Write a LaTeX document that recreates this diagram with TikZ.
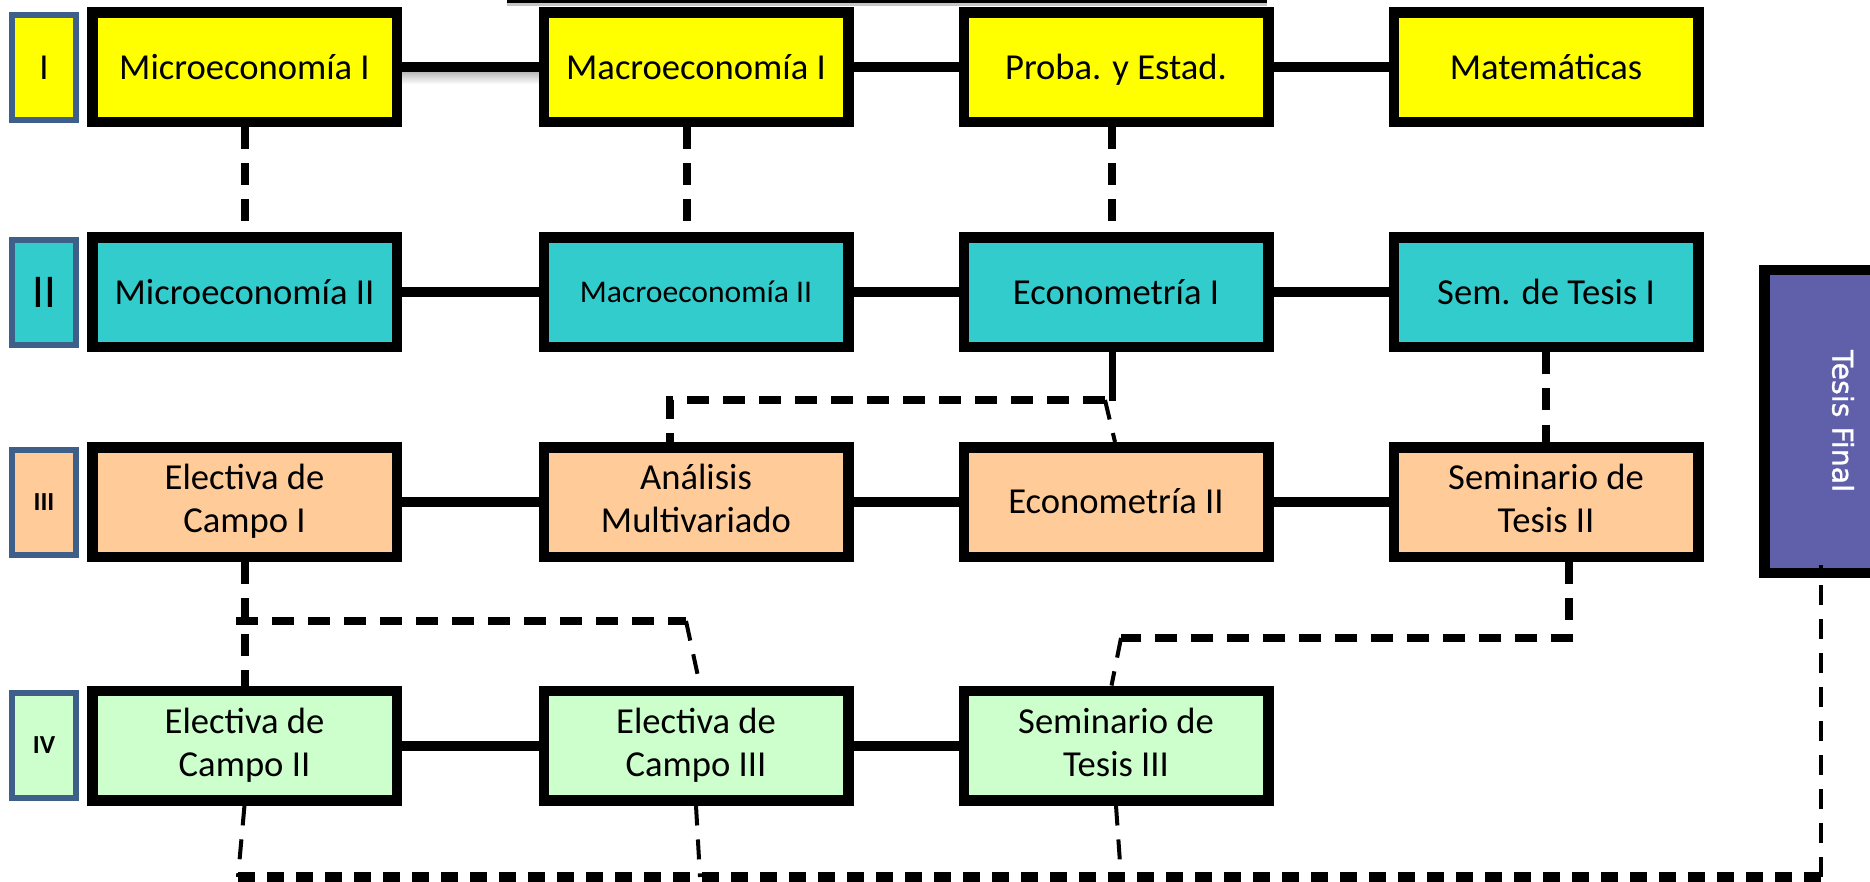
\documentclass[tikz,border=0pt]{standalone}
\usepackage{fontspec}
\setmainfont{Carlito}
\newfontfamily\dejavu[FakeBold=1.2]{DejaVu Sans}
\definecolor{cyel}{HTML}{FFFF00}
\definecolor{cteal}{HTML}{33CCCC}
\definecolor{cpeach}{HTML}{FFCC99}
\definecolor{cgreen}{HTML}{CCFFCC}
\definecolor{cpurple}{HTML}{5F5FAA}
\definecolor{cblue}{HTML}{3E5F8A}
\newcommand{\mystrut}{\rule[-0.2em]{0pt}{1.05em}}
\begin{document}
\begin{tikzpicture}[x=0.5pt,y=-0.5pt,
  course/.style={draw=black, line width=5.25pt, minimum width=152.25pt, minimum height=54.75pt, inner sep=0pt, align=center, font=\fontsize{18.3}{21.5}\selectfont, text=black, execute at begin node={\mystrut}, execute at end node={\mystrut}},
  lab/.style={draw=cblue, line width=3pt, minimum width=32pt, minimum height=52.5pt, inner sep=0pt, text=black},
  solidc/.style={line width=5pt},
  dashc/.style={line width=4pt, dash pattern=on 11pt off 7pt},
  thinc/.style={line width=2pt, dash pattern=on 10pt off 7pt},
  bottomc/.style={line width=5pt, dash pattern=on 8.5pt off 6pt},
]
\useasboundingbox (0,0) rectangle (1870,882);
% top edge line
\fill[gray!45] (507,3) rectangle (1267,6);
\fill[black] (507,0) rectangle (1267,3.5);
% shadow
\fill[top color=gray!55, bottom color=white] (402,72) rectangle (539,84);

% labels
\node[lab, fill=cyel, font=\fontsize{18.3}{21}\selectfont] (l1) at (44,67.5) {I};
\node[lab, fill=cteal, font=\fontsize{23.5}{26}\selectfont] (l2) at (44,292.5) {II};
\node[lab, fill=cpeach, font=\bfseries\fontsize{13}{15}\selectfont] (l3) at (44,502) {III};
\node[lab, fill=cgreen, font=\bfseries\fontsize{13}{15}\selectfont] (l4) at (44,745.5) {IV};

% row I
\node[course, fill=cyel] (a1) at (244.5,67.5) {Microeconomía I};
\node[course, fill=cyel] (a2) at (696,67.5) {Macroeconomía I};
\node[course, fill=cyel] (a3) at (1116,67.5) {Proba. y Estad.};
\node[course, fill=cyel] (a4) at (1546,67.5) {Matemáticas};
% row II
\node[course, fill=cteal] (b1) at (244.5,292.5) {Microeconomía II};
\node[course, fill=cteal, font=\fontsize{15.8}{19}\selectfont] (b2) at (696,292.5) {Macroeconomía II};
\node[course, fill=cteal] (b3) at (1116,292.5) {Econometría I};
\node[course, fill=cteal] (b4) at (1546,292.5) {Sem. de Tesis I};
% row III
\node[course, fill=cpeach] (c1) at (244.5,502) {Electiva de\\Campo I};
\node[course, fill=cpeach] (c2) at (696,502) {Análisis\\Multivariado};
\node[course, fill=cpeach] (c3) at (1116,502) {Econometría II};
\node[course, fill=cpeach] (c4) at (1546,502) {Seminario de\\Tesis II};
% row IV
\node[course, fill=cgreen] (d1) at (244.5,745.5) {Electiva de\\Campo II};
\node[course, fill=cgreen] (d2) at (696,745.5) {Electiva de\\Campo III};
\node[course, fill=cgreen] (d3) at (1116,745.5) {Seminario de\\Tesis III};

% Tesis Final
\node[draw=black, line width=5.25pt, fill=cpurple, minimum width=78.75pt, minimum height=151.25pt, inner sep=0pt] (tf) at (1843,421.5) {};
\node[rotate=-90, text=white, font=\dejavu\fontsize{14.2}{17}\selectfont] (tft) at (1843,421) {Tesis Final};

% solid row connectors
\foreach \r in {a,b,c}{
  \draw[solidc] (\r1.east) -- (\r2.west);
  \draw[solidc] (\r2.east) -- (\r3.west);
  \draw[solidc] (\r3.east) -- (\r4.west);
}
\draw[solidc] (d1.east) -- (d2.west);
\draw[solidc] (d2.east) -- (d3.west);

% row I -> II
\draw[dashc] (a1.south) -- (b1.north);
\draw[dashc] ([xshift=-4.5pt]a2.south) -- ([xshift=-4.5pt]b2.north);
\draw[dashc] ([xshift=-2.25pt]a3.south) -- ([xshift=-2.25pt]b3.north);

% row II -> III
\coordinate (j1) at (1112,401);
\coordinate (h1) at (1105,400);
\coordinate (h2) at (670,400);
\draw[line width=3.5pt] ([xshift=-2pt]b3.south) -- (j1);
\draw[dashc] (h1) -- (h2) -- (h2 |- c2.north);
\draw[thinc] (h1) -- ([xshift=-0.5pt]c3.north);
\draw[dashc] (b4.south) -- (c4.north);

% row III -> IV
\coordinate (h3) at (236,621);
\coordinate (h4) at (686,621);
\draw[dashc] (c1.south) -- (d1.north);
\draw[dashc] (h3) -- (h4);
\draw[thinc] (h4) -- ([xshift=2pt]d2.north);
\coordinate (h5) at (1569,638);
\coordinate (h6) at (1121,638);
\draw[dashc] ([xshift=11.5pt]c4.south) -- (h5) -- (h6);
\draw[thinc] (h6) -- ([xshift=-2.25pt]d3.north);

% row IV -> Tesis Final
\coordinate (e1) at (238,877);
\coordinate (e2) at (700,877);
\coordinate (e3) at (1121,877);
\coordinate (eR) at (1821,877);
\draw[thinc] (d1.south) -- (e1);
\draw[thinc] (d2.south) -- (e2);
\draw[thinc] (d3.south) -- (e3);
\draw[bottomc] (e1) -- (eR);
\draw[thinc] (eR) -- ([yshift=6.5pt]eR |- tf.south);
\end{tikzpicture}
\end{document}
